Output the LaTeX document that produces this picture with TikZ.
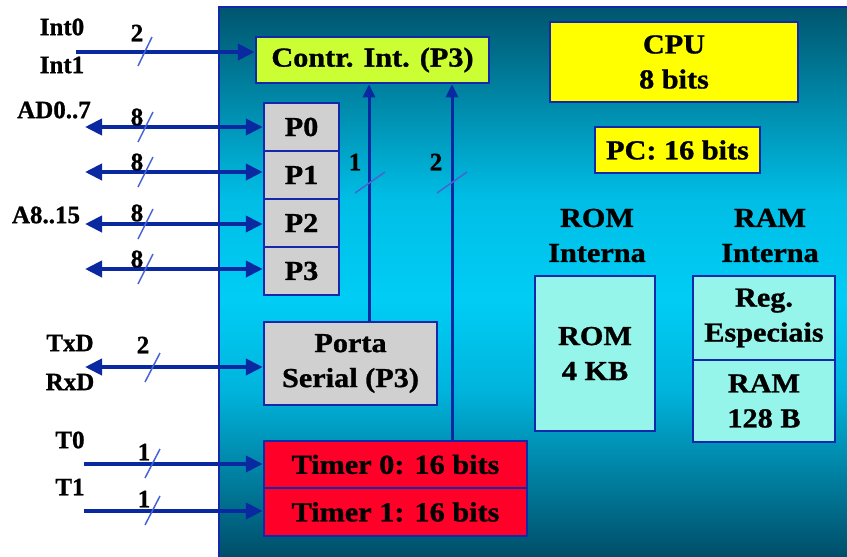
\documentclass[tikz,border=0pt]{standalone}
\usepackage{fontspec}
\setmainfont{Liberation Serif}[BoldFeatures={FakeBold=1}]
\newfontfamily\boxfont{Liberation Serif}[FakeStretch=1.1, BoldFeatures={FakeBold=1}]
\usetikzlibrary{arrows.meta,calc}
\definecolor{linecol}{RGB}{10,40,160}
\definecolor{slashcol}{RGB}{70,100,210}
\definecolor{bordercol}{RGB}{20,40,170}
\definecolor{bgA}{RGB}{0,85,110}
\definecolor{bgB}{RGB}{0,190,230}
\definecolor{bgC}{RGB}{0,205,245}
\definecolor{bgD}{RGB}{0,180,220}
\definecolor{bgE}{RGB}{0,78,105}
\definecolor{limecol}{RGB}{204,255,51}
\definecolor{yelcol}{RGB}{255,255,0}
\definecolor{graycol}{RGB}{208,208,208}
\definecolor{redcol}{RGB}{255,0,40}
\definecolor{aquacol}{RGB}{150,245,235}
\pgfdeclareverticalshading{bgshade}{100bp}{color(0bp)=(bgE); color(25bp)=(bgE); color(40.18bp)=(bgD); color(48.36bp)=(bgC); color(57.45bp)=(bgB); color(75bp)=(bgA); color(100bp)=(bgA)}
\tikzset{
  blk/.style={draw=bordercol, line width=2.5pt, inner sep=0pt, align=center,
    font=\boxfont\bfseries\fontsize{27.5}{35}\selectfont},
  plainlbl/.style={inner sep=0pt, align=center,
    font=\boxfont\bfseries\fontsize{27.5}{35}\selectfont},
  sidelbl/.style={inner sep=0pt, font=\bfseries\fontsize{25}{30}\selectfont},
  buslbl/.style={inner sep=0pt, font=\bfseries\fontsize{25}{30}\selectfont},
  bus/.style={draw=linecol, line width=4pt, >={Triangle[length=17pt,width=16pt]}},
  vbus/.style={draw=linecol, line width=3pt, -{Triangle[length=13pt,width=12pt]}},
  slashln/.style={draw=slashcol, line width=1.5pt},
}
\begin{document}
\begin{tikzpicture}[x=1pt,y=-1pt]
\useasboundingbox (0,0) rectangle (847,557);
% background
\shade[shading=bgshade] (219,7) rectangle (847,557);
\draw[bordercol, line width=2pt] (219,557) -- (219,7) -- (847,7);
% boxes
\node[blk, fill=limecol, minimum width=233pt, minimum height=46pt] (CI) at (372.5,60) {Contr. Int. (P3)};
\node[blk, fill=graycol, minimum width=75pt, minimum height=48pt] (P0) at (301.5,127) {P0};
\node[blk, fill=graycol, minimum width=75pt, minimum height=48pt] (P1) at (301.5,175) {P1};
\node[blk, fill=graycol, minimum width=75pt, minimum height=48pt] (P2) at (301.5,223) {P2};
\node[blk, fill=graycol, minimum width=75pt, minimum height=48pt] (P3) at (301.5,271) {P3};
\node[blk, fill=graycol, minimum width=173pt, minimum height=83pt] (PS) at (350.5,363.5) {Porta\\Serial (P3)};
\node[blk, fill=redcol, minimum width=263pt, minimum height=47pt] (T0) at (395.5,464.5) {Timer 0: 16 bits};
\node[blk, fill=redcol, minimum width=263pt, minimum height=48pt] (T1) at (395.5,512) {Timer 1: 16 bits};
\node[blk, fill=yelcol, minimum width=248pt, minimum height=80pt] (CPU) at (674,62) {CPU\\8 bits};
\node[blk, fill=yelcol, minimum width=165pt, minimum height=46pt] (PC) at (677.5,150) {PC: 16 bits};
\node[plainlbl] (ROMlbl) at (597,235.5) {ROM\\Interna};
\node[plainlbl] (RAMlbl) at (770,235.5) {RAM\\Interna};
\node[blk, fill=aquacol, minimum width=120pt, minimum height=155pt] (ROM) at (595,353.5) {ROM\\4 KB};
\node[blk, fill=aquacol, minimum width=142pt, minimum height=84pt] (REG) at (764,318) {Reg.\\Especiais};
\node[blk, fill=aquacol, minimum width=142pt, minimum height=82pt] (RAM) at (764,401) {RAM\\128 B};
% side labels
\node[sidelbl] (lInt0) at (62,27) {Int0};
\node[sidelbl] (lInt1) at (62,65) {Int1};
\node[sidelbl] (lAD) at (54,110) {AD0..7};
\node[sidelbl] (lA8) at (46,215) {A8..15};
\node[sidelbl] (lTx) at (70,343) {TxD};
\node[sidelbl] (lRx) at (70,382) {RxD};
\node[sidelbl] (lT0) at (70,440) {T0};
\node[sidelbl] (lT1) at (70,487) {T1};
% free ends
\coordinate (eInt) at (76,52);
\coordinate (eP0) at (85,127);
\coordinate (eP1) at (85,172);
\coordinate (eP2) at (85,224);
\coordinate (eP3) at (85,269);
\coordinate (eS) at (85,367);
\coordinate (eT0) at (84,464);
\coordinate (eT1) at (84,511);
\coordinate (v1) at (369,0);
\coordinate (v2) at (452,0);
% connectors
\draw[bus,->] (eInt) -- (eInt -| CI.west);
\draw[bus,<->] (eP0) -- (eP0 -| P0.west);
\draw[bus,<->] (eP1) -- (eP1 -| P1.west);
\draw[bus,<->] (eP2) -- (eP2 -| P2.west);
\draw[bus,<->] (eP3) -- (eP3 -| P3.west);
\draw[bus,<->] (eS) -- (eS -| PS.west);
\draw[bus,->] (eT0) -- (eT0 -| T0.west);
\draw[bus,->] (eT1) -- (eT1 -| T1.west);
\draw[vbus] (PS.north -| v1) -- (CI.south -| v1);
\draw[vbus] (T0.north -| v2) -- (CI.south -| v2);
% bus width marks
\draw[slashln] (138,66) -- (152,37);
\draw[slashln] (138,142) -- (153,112);
\draw[slashln] (138,187) -- (153,157);
\draw[slashln] (138,239) -- (153,209);
\draw[slashln] (138,284) -- (153,254);
\draw[slashln] (145,382) -- (160,353);
\draw[slashln] (145,478) -- (160,449);
\draw[slashln] (145,525) -- (160,496);
\draw[slashln] (355,193) -- (385,172);
\draw[slashln] (437,193) -- (467,172);
\node[buslbl] (n1) at (137,33) {2};
\node[buslbl] (n2) at (137,117) {8};
\node[buslbl] (n3) at (137,162) {8};
\node[buslbl] (n4) at (137,213) {8};
\node[buslbl] (n5) at (137,259) {8};
\node[buslbl] (n6) at (143,345) {2};
\node[buslbl] (n7) at (144,452) {1};
\node[buslbl] (n8) at (144,499) {1};
\node[buslbl] (n9) at (355,162) {1};
\node[buslbl] (n10) at (436,162) {2};
\end{tikzpicture}
\end{document}
